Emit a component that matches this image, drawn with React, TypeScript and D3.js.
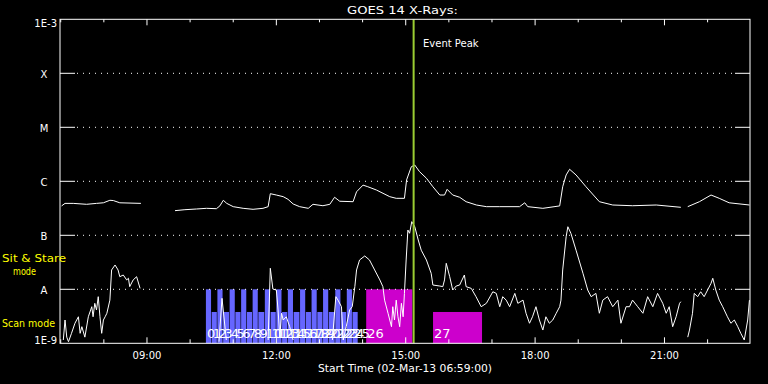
import React from "react";
import * as d3 from "d3";

// ---- data ----
const title = "GOES 14 X-Rays:";
const startLabel = "Start Time (02-Mar-13 06:59:00)";
const startTime = "06:59";
const spanHours = 16;
const eventPeak = "15:11";

const levelValues = [1e-3, 1e-4, 1e-5, 1e-6, 1e-7, 1e-8, 1e-9];
const levelLabels = ["1E-3", "X", "M", "C", "B", "A", "1E-9"];
const xTickHours = [9, 12, 15, 18, 21];
const xTickLabels = ["09:00", "12:00", "15:00", "18:00", "21:00"];

// GOES long channel (1-8 A), hours of day / flux (null = gap)
const longHours = [7.02, 7.1, 7.29, 7.6, 7.83, 7.99, 8.14, 8.22, 8.37, 8.86, 9.2,
  9.65, 9.88, 10.15, 10.38, 10.61, 10.69, 10.77, 10.85, 11.0, 11.23, 11.46, 11.69, 11.81,
  11.86, 12.0, 12.16, 12.27, 12.39, 12.54, 12.74, 12.85, 13.08, 13.24, 13.35, 13.47, 13.78,
  13.86, 14.01, 14.12, 14.32, 14.63, 14.78, 14.97, 15.02, 15.13, 15.21, 15.32, 15.48, 15.63,
  15.79, 15.9, 15.96, 16.09, 16.25, 16.4, 16.64, 16.87, 17.18, 17.64, 17.76, 17.83, 18.18,
  18.57, 18.64, 18.72, 18.8, 18.95, 19.18, 19.49, 19.8, 20.26, 20.81, 21.38, 21.46,
  21.54, 21.81, 22.08, 22.27, 22.5, 22.97];
const longFlux = [3.5e-7, 3.9e-7, 3.9e-7, 3.75e-7, 3.9e-7, 4.0e-7, 4.45e-7, 4.4e-7, 4.0e-7, 3.9e-7, null,
  2.86e-7, 2.98e-7, 3.07e-7, 3.16e-7, 3.11e-7, 3.5e-7, 4.45e-7, 3.9e-7, 3.39e-7, 3.16e-7, 3.03e-7, 3.16e-7, 3.39e-7,
  5.9e-7, 5.57e-7, 5.19e-7, 4.64e-7, 3.8e-7, 3.39e-7, 3.16e-7, 3.75e-7, 3.53e-7, 3.75e-7, 5.06e-7, 4.27e-7, 4.19e-7,
  6.4e-7, 8.5e-7, 7.94e-7, 6.9e-7, 5.19e-7, 4.84e-7, 4.84e-7, 1.06e-6, 1.86e-6, 2.0e-6, 1.51e-6, 1.14e-6, 7.94e-7,
  5.57e-7, 5.57e-7, 7.1e-7, 5.57e-7, 5.06e-7, 4.19e-7, 3.64e-7, 3.39e-7, 3.39e-7, 3.39e-7, 4.0e-7, 3.39e-7, 3.16e-7,
  3.5e-7, 7.94e-7, 1.31e-6, 1.67e-6, 1.31e-6, 7.94e-7, 4.19e-7, 3.64e-7, 3.53e-7, 3.64e-7, 3.3e-7, null,
  3.39e-7, 4.19e-7, 5.57e-7, 4.84e-7, 4.0e-7, 3.64e-7];

// GOES short channel (0.5-4 A)
const shortHours = [7.06, 7.1, 7.14, 7.18, 7.25, 7.33, 7.41, 7.45, 7.49, 7.56, 7.64, 7.72, 7.75, 7.79,
  7.83, 7.87, 7.91, 7.95, 7.99, 8.03, 8.07, 8.14, 8.18, 8.26, 8.33, 8.37, 8.45, 8.53, 8.57, 8.6,
  8.68, 8.76, 8.84, 9.0,
  10.67, 10.74, 10.84, 11.0,
  11.81, 11.86, 11.92, 12.0, 12.04, 12.08, 12.12, 12.16, 12.23, 12.31, 12.39, 12.6,
  13.3, 13.38, 13.43, 13.51, 13.55, 13.62, 13.7, 13.76, 13.82, 13.86, 13.93, 14.05, 14.16, 14.28,
  14.4, 14.47, 14.51, 14.59, 14.67, 14.7, 14.74, 14.78, 14.82, 14.86, 14.9, 14.94, 14.97, 15.01,
  15.05, 15.09, 15.14, 15.21, 15.29, 15.36, 15.48, 15.59, 15.63, 15.79, 15.86, 15.9, 15.94, 16.02,
  16.09, 16.17, 16.25, 16.36, 16.4, 16.52, 16.63, 16.75, 16.87, 17.02, 17.1, 17.18, 17.25, 17.33,
  17.41, 17.53, 17.6, 17.72, 17.79, 17.87, 17.94, 18.02, 18.1, 18.18, 18.25, 18.33, 18.41, 18.49,
  18.57, 18.6, 18.64, 18.72, 18.76, 18.83, 18.95, 19.11, 19.22, 19.3, 19.41, 19.49, 19.57, 19.68,
  19.8, 19.92, 19.99, 20.11, 20.19, 20.26, 20.38, 20.5, 20.61, 20.73, 20.84, 20.96, 21.04, 21.11,
  21.19, 21.27, 21.35, 21.38, 21.46,
  21.54, 21.58, 21.65, 21.69, 21.77, 21.84, 21.92, 22.0, 22.08, 22.12, 22.19, 22.27, 22.35, 22.46,
  22.54, 22.62, 22.7, 22.77, 22.85, 22.93, 22.97];
const shortFlux = [1.15e-9, 2.7e-9, 1.3e-9, 1.07e-9, 1.53e-9, 2.35e-9, 3.1e-9, 1.53e-9, 2.03e-9, 1.3e-9, 3.1e-9, 4.76e-9, 3.1e-9, 5.5e-9,
  4.14e-9, 7.3e-9, 3.1e-9, 1.53e-9, 2.7e-9, 3.1e-9, 3.6e-9, 6.3e-9, 2.28e-8, 2.82e-8, 2.28e-8, 1.71e-8, 1.84e-8, 1.49e-8, 1.6e-8, 1.12e-8,
  1.49e-8, 1.71e-8, 1.04e-8, null,
  1.07e-9, 6.8e-9, 1.15e-9, null,
  1.15e-9, 2.45e-8, 1.01e-8, 9.7e-9, 4.14e-9, 1.3e-9, 3.6e-9, 2.7e-9, 3.1e-9, 2.03e-9, 1.15e-9, null,
  1.15e-9, 7.3e-9, 6.3e-9, 4.76e-9, 1.15e-9, 2.03e-9, 4.14e-9, 4.76e-9, 1.12e-8, 2.28e-8, 3.49e-8, 4.14e-8, 3.49e-8, 2.28e-8,
  1.49e-8, 1.12e-8, 6.3e-9, 3.6e-9, 2.03e-9, 4.76e-9, 2.7e-9, 6.3e-9, 3.1e-9, 2.03e-9, 5.5e-9, 3.1e-9, 8.4e-9, 3.49e-8,
  1.25e-7, 1.09e-7, 1.79e-7, 1.44e-7, 8.2e-8, 5.3e-8, 3.49e-8, 1.98e-8, 1.2e-8, 1.15e-8, 1.12e-8, 1.49e-8, 3.03e-8, 1.71e-8,
  9.7e-9, 1.15e-8, 1.2e-8, 1.84e-8, 1.12e-8, 1.04e-8, 7.3e-9, 4.76e-9, 5.5e-9, 9.0e-9, 8.4e-9, 4.76e-9, 7.3e-9, 6.3e-9,
  4.76e-9, 8.4e-9, 5.5e-9, 6.3e-9, 3.6e-9, 2.35e-9, 3.1e-9, 4.76e-9, 2.7e-9, 1.76e-9, 3.1e-9, 2.35e-9, 2.7e-9, 3.6e-9,
  4.76e-9, 6.3e-9, 2.28e-8, 9.4e-8, 1.44e-7, 1.09e-7, 5.3e-8, 1.98e-8, 9.7e-9, 7.3e-9, 8.4e-9, 3.6e-9, 6.3e-9, 7.3e-9,
  4.76e-9, 6.3e-9, 2.35e-9, 4.76e-9, 4.76e-9, 6.3e-9, 4.76e-9, 3.6e-9, 7.3e-9, 4.76e-9, 8.4e-9, 5.5e-9, 3.6e-9, 4.76e-9,
  2.03e-9, 3.1e-9, 5.5e-9, 5.9e-9, null,
  1.3e-9, 1.76e-9, 3.6e-9, 8.4e-9, 7.3e-9, 9.0e-9, 7.3e-9, 9.7e-9, 1.29e-8, 1.6e-8, 9.7e-9, 6.3e-9, 4.76e-9, 3.1e-9,
  2.35e-9, 2.7e-9, 2.03e-9, 1.53e-9, 1.15e-9, 2.7e-9, 6.3e-9];

// Observations: id, start, end, mode ("stare" = sit & stare, "scan" = scan mode)
const obsIds = [0, 1, 2, 3, 4, 5, 6, 7, 8, 9, 10, 11, 12, 13, 14, 15, 16, 17, 18, 19, 20, 21, 22, 23, 24, 25, 26, 27];
const obsStart = ["10:22", "10:30", "10:38", "10:46", "10:55", "11:03", "11:11", "11:19", "11:27", "11:35",
  "11:44", "11:52", "12:00", "12:08", "12:16", "12:24", "12:33", "12:41", "12:49", "12:57",
  "13:05", "13:13", "13:22", "13:30", "13:38", "13:46", "14:05", "15:38"];
const obsEnd = ["10:30", "10:38", "10:46", "10:55", "11:03", "11:11", "11:19", "11:27", "11:35", "11:44",
  "11:52", "12:00", "12:08", "12:16", "12:24", "12:33", "12:41", "12:49", "12:57", "13:05",
  "13:13", "13:22", "13:30", "13:38", "13:46", "13:54", "15:10", "16:47"];
const obsMode = ["stare", "scan", "stare", "scan", "stare", "scan", "stare", "scan", "stare", "scan",
  "stare", "scan", "stare", "scan", "stare", "scan", "stare", "scan", "stare", "scan",
  "stare", "scan", "stare", "scan", "stare", "scan", "stare", "scan"];
const obsGroup = ["a", "a", "a", "a", "a", "a", "a", "a", "a", "a", "a", "a", "a", "a", "a", "a", "a", "a", "a", "a",
  "a", "a", "a", "a", "a", "a", "b", "b"];

// ---- layout ----
const W = 768, H = 384;
const L = 60, R = 750, T = 19.3, B = 343.3;
const FONT = "DejaVu Sans";

const hm = (s: string) => { const [h, m] = s.split(":").map(Number); return h + m / 60; };

export default function App() {
  const t0 = hm(startTime);
  const x = d3.scaleLinear().domain([t0, t0 + spanHours]).range([L, R]);
  const y = d3.scaleLog().domain([1e-9, 1e-3]).range([B, T]);
  const scanTop = y(10 ** -8.42);

  const mkLine = (hs: number[], fs: (number | null)[]) => {
    const pts = hs.map((h, i) => [h, fs[i]] as [number, number | null]);
    return d3.line<[number, number | null]>()
      .defined(d => d[1] != null)
      .x(d => x(d[0]))
      .y(d => y(Math.max(d[1] as number, 1e-9)))(pts) || "";
  };

  const hourTicks = d3.range(Math.ceil(t0), Math.floor(t0 + spanHours) + 1);
  const peakX = x(hm(eventPeak));

  return (
    <svg width={W} height={H} style={{ position: "fixed", left: 0, top: 0, display: "block", background: "#000" }}
      fontFamily={FONT}>
      <rect x={0} y={0} width={W} height={H} fill="#000" />
      <defs>
        <clipPath id="plot"><rect x={L} y={T} width={R - L} height={B - T} /></clipPath>
      </defs>

      {/* observation bars */}
      {obsIds.map((id, i) => {
        const x0 = x(hm(obsStart[i])), x1 = x(hm(obsEnd[i]));
        const top = obsMode[i] === "stare" ? y(1e-8) : scanTop;
        return <rect key={"o" + id} x={x0} y={top} width={Math.max(1, x1 - x0 - 0.6)} height={B - top}
          fill={obsGroup[i] === "a" ? "#6666ff" : "#cc00cc"} />;
      })}

      {/* gridlines */}
      {levelValues.slice(1, -1).map(v => (
        <g key={"g" + v}>
          <line x1={L} x2={L + 15} y1={y(v)} y2={y(v)} stroke="#fff" strokeWidth={1} />
          <line x1={R - 15} x2={R} y1={y(v)} y2={y(v)} stroke="#fff" strokeWidth={1} />
          <line x1={L + 17} x2={R - 15} y1={y(v)} y2={y(v)} stroke="#fff" strokeWidth={1} strokeDasharray="1,5" />
        </g>
      ))}

      {/* curves */}
      <g clipPath="url(#plot)">
        <path d={mkLine(longHours, longFlux)} fill="none" stroke="#fff" strokeWidth={1} />
        <path d={mkLine(shortHours, shortFlux)} fill="none" stroke="#fff" strokeWidth={1} />
      </g>

      {/* observation numbers */}
      {obsIds.map((id, i) => (
        <text key={"n" + id} x={x(hm(obsStart[i])) + 1} y={337.5} fill="#fff" fontSize={13}>{id}</text>
      ))}

      {/* event peak */}
      <line x1={peakX} x2={peakX} y1={T} y2={B} stroke="#9acd32" strokeWidth={2} />
      <text x={423} y={46.5} fill="#fff" fontSize={10}>Event Peak</text>

      {/* frame */}
      <rect x={L} y={T} width={R - L} height={B - T} fill="none" stroke="#fff" strokeWidth={1} />

      {/* x ticks */}
      {hourTicks.map(h => {
        const major = h % 3 === 0;
        return (
          <g key={"t" + h}>
            <line x1={x(h)} x2={x(h)} y1={T} y2={T + (major ? 6 : 3)} stroke="#fff" />
            <line x1={x(h)} x2={x(h)} y1={B} y2={B - (major ? 6 : 4)} stroke="#fff" />
          </g>
        );
      })}
      {xTickHours.map((h, i) => (
        <text key={"xl" + h} x={x(h)} y={359} fill="#fff" fontSize={10} textAnchor="middle">{xTickLabels[i]}</text>
      ))}
      <text x={318} y={371.5} fill="#fff" fontSize={10} textLength={174} lengthAdjust="spacingAndGlyphs">{startLabel}</text>

      {/* y labels */}
      {levelLabels.map((lab, i) => {
        const v = levelValues[i];
        const isEnd = i === 0 || i === levelLabels.length - 1;
        const cy = i === 0 ? 23 : i === levelLabels.length - 1 ? 340 : y(v) + 1;
        return (
          <text key={"yl" + lab} x={isEnd ? 57 : 44} y={cy + 3.8} fill="#fff" fontSize={10}
            textAnchor={isEnd ? "end" : "middle"}>{lab}</text>
        );
      })}

      {/* mode labels */}
      <text x={2} y={262} fill="#ffff00" fontSize={10} textLength={64} lengthAdjust="spacingAndGlyphs">Sit &amp; Stare</text>
      <text x={13} y={275} fill="#ffff00" fontSize={10} textLength={23} lengthAdjust="spacingAndGlyphs">mode</text>
      <text x={2} y={327} fill="#ffff00" fontSize={10} textLength={53} lengthAdjust="spacingAndGlyphs">Scan mode</text>

      {/* title */}
      <text x={347} y={14} fill="#fff" fontSize={10} textLength={111} lengthAdjust="spacingAndGlyphs">{title}</text>
    </svg>
  );
}
